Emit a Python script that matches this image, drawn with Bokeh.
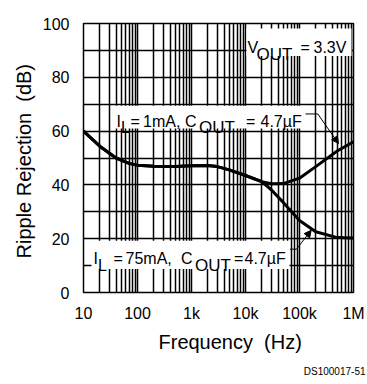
from bokeh.plotting import figure
from bokeh.models import Range1d, FixedTicker, Label, BoxAnnotation, Arrow, NormalHead, Title
from bokeh.embed import file_html
from bokeh.resources import INLINE

# ---- data ----
freq = [10, 20, 40, 70, 100, 200, 500, 1000, 2000, 3000, 5000, 10000,
        20000, 30000, 50000, 100000, 200000, 500000, 1000000]
rr_1mA = [60, 54.4, 50, 48, 47.3, 46.9, 46.8, 47.1, 47.2, 46.8, 45.6, 43.5,
          41.2, 40.4, 40.5, 42.5, 46.8, 52.6, 56]
rr_75mA = [60, 54.4, 50, 48, 47.3, 46.9, 46.8, 47.1, 47.2, 46.8, 45.6, 43.5,
           41.2, 38.2, 33.5, 26.8, 22.6, 20.4, 20.3]

x_ticks = [10, 100, 1000, 10000, 100000, 1000000]
x_tick_labels = ["10", "100", "1k", "10k", "100k", "1M"]
x_minor = [m * d for d in [10, 100, 1000, 10000, 100000] for m in range(2, 10)]
y_ticks = [0, 20, 40, 60, 80, 100]
y_minor = [10, 30, 50, 70, 90]

FONT = "Liberation Sans"

# helpers mapping picture pixel positions to data space (annotations only)
def hz(px):
    return 10 ** (1 + (px - 84) / 54.0)

def db(py):
    return (293.5 - py) / 2.7

p = figure(width=366, height=382, x_axis_type="log",
           x_range=Range1d(10, 1000000), y_range=Range1d(0, 100),
           output_backend="svg", toolbar_location=None,
           min_border_left=83, min_border_right=13,
           min_border_top=23, min_border_bottom=89)
p.background_fill_color = "white"
p.border_fill_color = "white"
p.outline_line_color = "black"
p.outline_line_width = 1.5

p.xaxis.ticker = FixedTicker(ticks=x_ticks, minor_ticks=x_minor)
p.yaxis.ticker = FixedTicker(ticks=y_ticks, minor_ticks=y_minor)
p.xaxis.major_label_overrides = {t: l for t, l in zip(x_ticks, x_tick_labels)}
for ax in (p.xaxis, p.yaxis):
    ax.axis_line_color = None
    ax.major_tick_line_color = None
    ax.minor_tick_line_color = None
    ax.major_tick_out = 0
    ax.major_tick_in = 0
    ax.minor_tick_out = 0
    ax.major_label_text_font = FONT
    ax.major_label_text_font_size = "16px"
    ax.major_label_text_color = "black"
p.xaxis.major_label_standoff = 12
p.yaxis.major_label_standoff = 14

for g in (p.xgrid, p.ygrid):
    g.grid_line_color = "black"
    g.grid_line_width = 1.5
    g.grid_line_alpha = 1
    g.minor_grid_line_color = "black"
    g.minor_grid_line_width = 1.5
    g.minor_grid_line_alpha = 1

p.line(freq, rr_1mA, line_color="black", line_width=3, line_join="round", line_cap="round")
p.line(freq, rr_75mA, line_color="black", line_width=3, line_join="round", line_cap="round")

# white label boxes
for l, r, b, t in [(113, 306, 129, 106), (92, 290, 270, 241.5), (247, 352, 56, 28.5)]:
    p.add_layout(BoxAnnotation(left=hz(l), right=hz(r), bottom=db(b), top=db(t),
                               fill_color="white", fill_alpha=1, line_color=None))

def txt(s, px, py, size="16px"):
    p.add_layout(Label(x=hz(px), y=db(py), text=s, text_font=FONT,
                       text_font_size=size, text_color="black",
                       text_baseline="alphabetic"))

# upper label: I_L = 1mA, C_OUT = 4.7uF
txt("I", 117, 121.5)
txt("L", 121.5, 128)
txt("=", 131, 121.5)
txt("1mA,", 143.5, 121.5)
txt("C", 185.5, 121.5)
txt("OUT", 199.5, 128, "17px")
txt("=", 246.5, 121.5)
txt("4.7\u00b5F", 261, 121.5)

# lower label: I_L = 75mA, C_OUT = 4.7uF
txt("I", 94, 259)
txt("L", 98.5, 266.5)
txt("=", 114, 259)
txt("75mA,", 126, 259)
txt("C", 181.5, 259)
txt("OUT", 195.5, 266.5, "17px")
txt("=", 234.5, 259)
txt("4.7\u00b5F", 245, 259)

# V_OUT box
txt("V", 248, 47.5)
txt("OUT", 257, 54.5, "17px")
txt("=", 301, 47.5)
txt("3.3V", 314, 47.5)

# leader lines and arrows
p.add_layout(Arrow(x_start=hz(306), y_start=db(114.3), x_end=hz(318.3), y_end=db(114.3),
                   end=None, line_color="black", line_width=1))
p.add_layout(Arrow(x_start=hz(318.3), y_start=db(114.3), x_end=hz(339), y_end=db(144),
                   end=NormalHead(size=7, fill_color="black", line_color="black"),
                   line_color="black", line_width=1))
p.add_layout(Arrow(x_start=hz(290.5), y_start=db(250), x_end=hz(297), y_end=db(250),
                   end=None, line_color="black", line_width=1))
p.add_layout(Arrow(x_start=hz(297), y_start=db(250), x_end=hz(311.7), y_end=db(231),
                   end=NormalHead(size=7, fill_color="black", line_color="black"),
                   line_color="black", line_width=1))

# axis titles and figure id
p.add_layout(Title(text="Frequency\u00a0 (Hz)", align="left", offset=75,
                   text_font=FONT, text_font_size="20px", text_font_style="normal",
                   text_color="black", standoff=9), "below")
p.add_layout(Title(text="DS100017-51", align="right", offset=-12,
                   text_font=FONT, text_font_size="10px", text_font_style="normal",
                   text_color="black", standoff=12), "below")
p.add_layout(Title(text="Ripple Rejection\u00a0 (dB)", align="left", offset=34,
                   text_font=FONT, text_font_size="20px", text_font_style="normal",
                   text_color="black", standoff=10), "left")

open("out.html", "w").write(file_html(p, INLINE))
